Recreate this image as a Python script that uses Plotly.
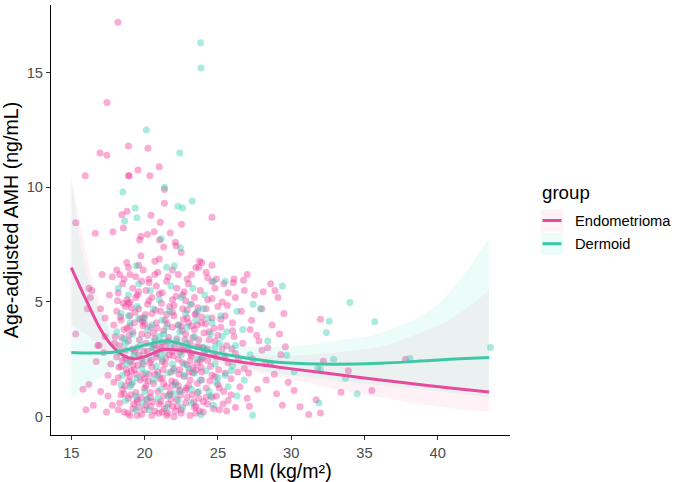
import plotly.graph_objects as go

# ---------------- data ----------------
endo_x = [18.18, 17.43, 18.9, 20.23, 16.96, 17.43, 21.0, 19.55, 15.95, 18.9, 18.95, 20.36, 21.35, 21.35, 18.45, 18.8, 20.44, 21.07, 24.6, 22.52, 15.3, 18.55, 16.64, 17.84, 20.66, 21.75, 19.75, 20.2, 19.66, 21.02, 22.1, 22.14, 21.3, 22.5, 19.75, 21.0, 20.7, 18.78, 23.75, 23.9, 23.7,
          28.6, 28.1, 26.05, 24.3, 24.6,
          15.3, 16.2, 16.3, 16.4, 16.1, 15.8, 16.0, 16.5, 16.2, 16.8, 16.9, 17.1, 17.0, 17.2, 17.0, 17.4, 17.5, 17.6, 17.8, 17.9, 17.3, 17.7, 17.5, 17.9, 17.8, 16.7, 17.3, 17.95,
          18.3, 18.6, 19.0, 19.4, 19.9, 20.3, 20.9, 21.6, 22.3, 22.9, 23.5, 24.2, 24.9, 25.4, 18.1, 19.6,
          18.2, 18.5, 18.8, 19.2, 19.5, 19.8, 20.1, 20.5, 20.8, 21.2, 21.5, 21.9, 22.2, 22.6, 23.0, 23.4, 23.8, 24.3, 24.8, 25.3, 25.7, 26.2, 26.8, 27.5, 28.9, 19.0, 20.3, 22.8,
          18.1, 18.4, 18.7, 19.0, 19.3, 19.6, 19.9, 20.2, 20.5, 20.8, 21.1, 21.4, 21.7, 22.0, 22.3, 22.6, 22.9, 23.2, 23.5, 23.9, 24.2, 24.6, 25.0, 25.5, 26.0, 26.6, 27.3, 28.0, 28.7, 29.5, 32.0, 18.9, 20.0, 21.9, 23.6,
          18.0, 18.3, 18.6, 18.9, 19.2, 19.5, 19.8, 20.1, 20.4, 20.7, 21.0, 21.3, 21.6, 21.9, 22.2, 22.5, 22.8, 23.1, 23.4, 23.7, 24.0, 24.4, 24.8, 25.2, 25.6, 26.1, 26.7, 27.2, 27.8, 28.4, 29.2, 19.0, 20.6, 23.3,
          18.1, 18.4, 18.7, 19.0, 19.3, 19.6, 19.9, 20.2, 20.5, 20.8, 21.1, 21.4, 21.7, 22.0, 22.3, 22.6, 22.9, 23.2, 23.5, 23.8, 24.1, 24.5, 24.9, 25.3, 25.7, 26.2, 26.8, 27.4, 28.0, 28.6, 29.3, 32.2, 33.9, 37.8, 18.5, 19.8, 21.2, 22.4, 23.6, 24.7,
          18.2, 18.5, 18.8, 19.1, 19.4, 19.7, 20.0, 20.3, 20.6, 20.9, 21.2, 21.5, 21.8, 22.1, 22.4, 22.7, 23.0, 23.3, 23.6, 23.9, 24.2, 24.6, 25.0, 25.4, 25.9, 26.5, 27.1, 27.7, 28.3, 29.0, 29.8, 30.2, 33.4, 35.5, 18.9, 20.4, 21.9, 23.1,
          18.3, 18.6, 18.9, 19.2, 19.5, 19.8, 20.1, 20.4, 20.7, 21.0, 21.3, 21.6, 21.9, 22.2, 22.5, 22.8, 23.1, 23.4, 23.7, 24.0, 24.3, 24.6, 25.1, 25.7, 26.2, 27.0, 29.4, 30.6, 31.2, 31.7, 32.0, 19.0, 20.0, 22.0, 23.5, 21.2, 19.6,
          18.15, 18.45, 18.75, 19.05, 19.35, 19.65, 19.95, 20.25, 20.55, 20.85, 21.15, 21.45, 21.75, 22.05, 22.35, 22.65, 22.95, 23.25, 23.55, 23.85, 24.15, 24.45, 24.75, 25.05, 25.35, 25.65, 25.95, 26.35, 26.75, 27.15, 27.65, 28.25, 28.85, 29.6, 19.1, 19.9, 20.9, 21.8, 22.9, 23.9, 24.9, 18.6, 18.2, 20.2, 21.4, 22.6, 23.0, 24.3, 25.5, 19.4, 20.7, 21.9, 23.2, 24.6, 18.9, 26.1, 27.0, 29.1,
          18.35, 18.65, 18.95, 19.25, 19.55, 19.85, 20.15, 20.45, 20.75, 21.05, 21.35, 21.65, 21.95, 22.25, 22.55, 22.85, 23.15, 23.45, 23.75, 24.05,
          18.25, 18.55, 18.85, 19.15, 19.45, 19.75, 20.05, 20.35, 20.65, 20.95, 21.25, 21.55, 21.85, 22.15, 22.45, 22.75, 23.05, 23.35, 23.65, 23.95,
          18.4, 18.8, 19.2, 19.6, 20.0, 20.4, 20.8, 21.2, 21.6, 22.0, 22.4, 22.8, 23.2, 23.6, 24.0, 24.4, 24.8, 25.2, 25.6, 26.0,
          18.7, 19.1, 19.5, 19.9, 20.3, 20.7, 21.1, 21.5, 21.9, 22.3, 22.7, 23.1, 23.5, 23.9, 24.3, 24.7, 25.1, 25.5, 25.9, 26.4,
          19.0, 19.3, 19.7, 20.1, 20.6, 21.0, 21.3, 21.7, 22.1, 22.5, 22.9, 23.3, 23.7, 24.2, 24.6, 25.0, 19.5, 20.5, 21.5, 22.5]
endo_y = [17.2, 13.7, 11.8, 11.7, 11.5, 11.4, 10.9, 10.75, 10.5, 10.5, 10.5, 10.5, 9.9, 9.3, 8.8, 8.96, 8.78, 8.48, 8.7, 8.39, 8.45, 8.23, 8.0, 8.06, 8.06, 8.01, 7.87, 7.94, 7.7, 7.7, 7.6, 7.45, 7.4, 7.16, 7.02, 6.87, 6.78, 6.72, 6.78, 6.72, 6.52,
          5.8, 5.45, 5.84, 6.07, 5.88,
          3.6, 5.6, 5.2, 5.5, 4.7, 1.2, 0.3, 0.5, 1.4, 3.1, 3.1, 6.2, 4.7, 2.8, 1.1, 0.2, 1.8, 5.3, 6.1, 4.0, 3.5, 2.3, 0.9, 1.5, 0.5, 2.4, 4.3, 3.2,
          6.2, 6.0, 6.2, 6.1, 6.4, 6.0, 6.3, 6.1, 6.2, 6.0, 6.5, 6.3, 6.0, 5.8, 6.4, 6.6,
          5.4, 5.8, 5.1, 5.6, 5.3, 5.9, 5.5, 5.2, 5.7, 5.4, 5.9, 5.1, 5.6, 5.3, 5.8, 5.2, 5.5, 5.1, 5.6, 5.0, 5.4, 5.2, 5.5, 5.3, 5.5, 5.0, 5.85, 5.05,
          4.6, 4.2, 4.8, 4.4, 4.1, 4.7, 4.3, 4.9, 4.5, 4.1, 4.6, 4.2, 4.8, 4.4, 4.0, 4.7, 4.3, 4.9, 4.5, 4.1, 4.7, 4.3, 4.8, 4.4, 4.1, 4.6, 4.2, 4.7, 4.0, 4.5, 4.25, 4.95, 4.05, 4.55, 4.0,
          3.5, 3.1, 3.8, 3.3, 3.7, 3.0, 3.6, 3.2, 3.9, 3.4, 3.05, 3.75, 3.3, 3.9, 3.4, 3.0, 3.6, 3.2, 3.8, 3.35, 3.0, 3.7, 3.3, 3.9, 3.1, 3.5, 3.2, 3.8, 3.3, 3.0, 3.6, 3.95, 3.0, 3.45,
          2.6, 2.2, 2.9, 2.4, 2.05, 2.7, 2.3, 2.85, 2.15, 2.6, 2.95, 2.3, 2.7, 2.1, 2.5, 2.9, 2.25, 2.65, 2.05, 2.45, 2.85, 2.2, 2.6, 2.95, 2.35, 2.75, 2.1, 2.5, 2.9, 2.3, 2.7, 2.42, 2.0, 2.5, 2.45, 2.55, 2.4, 2.8, 2.35, 2.7,
          1.7, 1.2, 1.9, 1.4, 1.05, 1.6, 1.25, 1.85, 1.45, 1.1, 1.7, 1.3, 1.95, 1.5, 1.15, 1.75, 1.35, 1.9, 1.05, 1.6, 1.25, 1.8, 1.4, 1.1, 1.65, 1.3, 1.9, 1.2, 1.6, 1.0, 1.5, 1.14, 1.06, 1.14, 1.55, 1.05, 1.35, 1.6,
          0.6, 0.2, 0.8, 0.35, 0.65, 0.1, 0.5, 0.85, 0.25, 0.55, 0.9, 0.15, 0.45, 0.75, 0.3, 0.6, 0.05, 0.4, 0.8, 0.2, 0.55, 0.85, 0.3, 0.7, 0.4, 0.8, 0.5, 0.43, 0.09, 0.74, 0.16, 0.05, 0.3, 0.0, 0.15, 0.2, 0.4,
          5.05, 3.45, 2.05, 0.95, 4.55, 3.35, 2.85, 1.55, 0.65, 3.85, 4.95, 2.55, 1.05, 3.05, 1.85, 4.25, 2.95, 0.95, 3.05, 2.15, 4.05, 1.55, 3.85, 2.05, 0.55, 4.85, 2.95, 1.95, 5.95, 0.45, 3.55, 2.35, 1.85, 3.05, 2.0, 1.85, 1.95, 0.75, 0.85, 1.95, 0.9, 1.0, 0.3, 3.55, 3.1, 2.35, 4.1, 2.45, 1.9, 5.2, 6.2, 6.4, 6.2, 6.6, 6.5, 6.0, 6.2, 5.2,
          4.35, 1.35, 3.55, 0.55, 2.25, 4.15, 0.75, 2.45, 4.65, 1.65, 0.35, 3.45, 2.65, 0.45, 3.75, 1.25, 2.75, 4.45, 0.25, 3.65,
          2.15, 4.95, 0.15, 2.95, 1.85, 0.85, 4.45, 2.35, 3.15, 0.15, 2.05, 4.05, 1.55, 5.25, 0.95, 3.35, 1.95, 0.65, 4.75, 2.55,
          0.95, 3.85, 2.25, 5.45, 1.65, 0.45, 2.75, 3.25, 0.55, 4.85, 2.05, 1.15, 3.95, 1.45, 0.65, 3.35, 1.75, 4.25, 0.25, 3.75,
          2.55, 4.75, 0.75, 3.95, 5.05, 1.85, 0.65, 4.45, 2.85, 1.35, 5.45, 2.45, 0.45, 4.35, 2.95, 0.35, 1.25, 2.65, 0.95, 2.55,
          1.75, 2.85, 4.25, 1.35, 3.65, 5.35, 1.45, 0.95, 0.25, 3.95, 4.65, 2.15, 3.05, 0.85, 5.15, 3.55, 0.05, 0.05, 0.05, 0.15]

derm_x = [23.82, 23.85, 20.12, 22.4, 21.36, 18.52, 23.25, 22.28, 22.6, 19.36, 18.64, 19.48, 21.14, 22.44, 19.43, 22.03, 21.5,
          29.4, 34.0, 32.6, 35.7, 32.4, 29.7, 32.9, 31.8, 32.0, 30.2, 33.7, 34.5, 31.9, 38.1, 43.6,
          25.5, 26.3, 27.4, 27.9, 28.4, 26.7, 27.2, 25.9, 27.37, 23.2,
          18.2, 18.9, 19.6, 20.4, 21.0, 21.8, 22.5, 23.3, 24.1, 24.7,
          18.4, 19.0, 19.5, 20.0, 20.6, 21.2, 21.7, 22.3, 22.8, 23.5, 24.0, 24.6, 25.2,
          18.1, 18.7, 19.2, 19.7, 20.2, 20.7, 21.3, 21.8, 22.4, 22.9, 23.4, 24.0, 24.5, 25.1, 25.6,
          18.3, 18.8, 19.3, 19.8, 20.3, 20.8, 21.4, 21.9, 22.5, 23.0, 23.6, 24.2, 24.8, 25.4, 26.0,
          18.5, 19.0, 19.5, 20.0, 20.6, 21.1, 21.6, 22.1, 22.7, 23.2, 23.8, 24.4, 25.0, 25.7,
          18.7, 19.4, 20.3, 20.9, 21.5, 22.3, 23.85, 24.7, 26.3, 19.9,
          18.6, 19.1, 19.6, 20.1, 20.5, 21.0, 21.5, 22.0, 22.4, 22.9, 23.4, 23.9, 24.3, 24.9, 25.3,
          18.9, 19.4, 19.9, 20.5, 21.0, 21.6, 22.2, 22.7, 23.1, 23.7, 24.2, 24.8, 25.5, 26.2, 26.8,
          19.2, 20.2, 21.2, 22.0, 23.0, 24.5, 18.4, 20.9, 22.6, 23.6]
derm_y = [16.3, 15.2, 12.5, 11.5, 10.0, 9.8, 9.4, 9.17, 9.1, 9.1, 8.53, 8.67, 7.76, 7.36, 6.58, 6.58, 6.52,
          5.7, 4.98, 4.16, 4.14, 3.67, 2.68, 2.5, 2.1, 2.07, 1.96, 1.67, 1.0, 0.6, 2.54, 3.01,
          5.9, 4.6, 4.9, 4.7, 3.3, 3.8, 2.7, 2.0, 0.06, 0.6,
          5.6, 5.3, 5.8, 5.5, 5.1, 5.7, 5.2, 5.6, 5.3, 5.9,
          4.5, 4.1, 4.8, 4.3, 4.7, 4.2, 4.6, 4.0, 4.5, 4.2, 4.7, 4.1, 4.4,
          3.7, 3.2, 3.6, 3.1, 3.8, 3.3, 3.6, 3.1, 3.7, 3.2, 3.5, 3.0, 3.6, 3.2, 3.7,
          2.8, 2.3, 2.7, 2.1, 2.6, 2.2, 2.8, 2.3, 2.7, 2.1, 2.5, 2.9, 2.3, 2.6, 2.2,
          1.8, 1.3, 1.7, 1.1, 1.6, 1.2, 1.9, 1.4, 1.8, 1.2, 1.6, 1.1, 1.7, 1.3,
          0.7, 0.3, 0.3, 0.8, 0.4, 0.7, 0.08, 0.5, 0.9, 0.6,
          3.4, 2.5, 4.3, 1.9, 3.0, 2.7, 3.9, 2.0, 1.1, 3.9, 1.9, 2.6, 4.3, 1.5, 3.5,
          4.4, 0.9, 2.4, 4.0, 3.5, 0.9, 3.3, 2.3, 4.9, 1.1, 2.0, 3.0, 1.8, 3.1, 1.6,
          1.5, 0.8, 2.5, 1.0, 2.9, 0.9, 1.4, 1.8, 0.4, 4.6]

# smooth fits with confidence bands
endo_fx = [15, 16, 17, 17.7, 18.6, 19.2, 20, 21.3, 22.5, 23.4, 25.6, 27.9, 30.6, 33, 36.1, 39, 41, 43.5]
endo_fit = [6.5, 5.1, 3.8, 3.15, 2.65, 2.52, 2.62, 2.93, 2.88, 2.8, 2.48, 2.26, 2.04, 1.85, 1.6, 1.38, 1.24, 1.08]
endo_lo = [4.0, 3.6, 3.05, 2.75, 2.4, 2.3, 2.42, 2.7, 2.64, 2.55, 2.2, 1.9, 1.55, 1.2, 0.85, 0.52, 0.36, 0.21]
endo_hi = [10.5, 7.2, 4.75, 3.6, 2.93, 2.76, 2.84, 3.18, 3.14, 3.07, 2.8, 2.68, 2.68, 2.8, 3.06, 3.7, 4.3, 5.5]

derm_fx = [15, 16, 17, 18, 19, 20, 21, 21.6, 22.5, 23.5, 25, 27, 29.3, 31, 33, 36.1, 39.5, 41.5, 43.5]
derm_fit = [2.8, 2.78, 2.78, 2.82, 2.95, 3.12, 3.27, 3.3, 3.17, 3.0, 2.78, 2.55, 2.36, 2.31, 2.29, 2.33, 2.45, 2.52, 2.58]
derm_lo = [0.78, 1.25, 1.7, 2.15, 2.5, 2.75, 2.9, 2.93, 2.8, 2.63, 2.4, 2.12, 1.86, 1.72, 1.57, 1.38, 1.15, 1.0, 0.85]
derm_hi = [10.3, 6.4, 4.6, 3.7, 3.48, 3.55, 3.7, 3.72, 3.6, 3.42, 3.22, 3.06, 3.06, 3.12, 3.3, 3.65, 4.65, 5.96, 7.8]

group_names = ["Endometrioma", "Dermoid"]
x_ticks = [15, 20, 25, 30, 35, 40]
y_ticks = [0, 5, 10, 15]

# ---------------- styles ----------------
PINK_LINE = "#E84A9E"
TEAL_LINE = "#3CC8A8"
PINK_PT = "rgba(240,50,150,0.40)"
TEAL_PT = "rgba(40,205,175,0.40)"
PINK_FILL = "rgba(240,100,150,0.085)"
TEAL_FILL = "rgba(40,225,185,0.085)"
FONT = "Liberation Sans, Arial, sans-serif"
TXT = 14.7
LTTL = 18.7
ATTL = 19.6

fig = go.Figure()

fig.add_trace(go.Scatter(x=endo_x, y=endo_y, mode="markers",
                         marker=dict(size=7, color=PINK_PT, line=dict(width=0)),
                         showlegend=False, hoverinfo="skip"))
fig.add_trace(go.Scatter(x=derm_x, y=derm_y, mode="markers",
                         marker=dict(size=7, color=TEAL_PT, line=dict(width=0)),
                         showlegend=False, hoverinfo="skip"))

for fx, lo, hi, fc in [(endo_fx, endo_lo, endo_hi, PINK_FILL), (derm_fx, derm_lo, derm_hi, TEAL_FILL)]:
    fig.add_trace(go.Scatter(x=fx, y=lo, mode="lines", line=dict(width=0, shape="spline"),
                             showlegend=False, hoverinfo="skip"))
    fig.add_trace(go.Scatter(x=fx, y=hi, mode="lines", line=dict(width=0, shape="spline"),
                             fill="tonexty", fillcolor=fc, showlegend=False, hoverinfo="skip"))
for fx, fit, lc in [(endo_fx, endo_fit, PINK_LINE), (derm_fx, derm_fit, TEAL_LINE)]:
    fig.add_trace(go.Scatter(x=fx, y=fit, mode="lines", line=dict(width=3, color=lc, shape="spline"),
                             showlegend=False, hoverinfo="skip"))

# ---------------- custom legend ----------------
W_L, W_R, M_T, M_B = 51, 164, 5, 47
PW, PH = 674 - W_L - W_R, 482 - M_T - M_B


def px_x(p):
    return (p - W_L) / PW


def px_y(p):
    return 1 - (p - M_T) / PH


shapes = []
annotations = [dict(x=px_x(539.5), y=px_y(192), xref="paper", yref="paper", text="group",
                    showarrow=False, xanchor="left", yanchor="middle",
                    font=dict(family=FONT, size=LTTL, color="black"))]
for i, (name, lc, fc) in enumerate(zip(group_names, [PINK_LINE, TEAL_LINE], [PINK_FILL, TEAL_FILL])):
    top = 209.5 + i * 23.2
    shapes.append(dict(type="rect", xref="paper", yref="paper", x0=px_x(541), x1=px_x(563),
                       y0=px_y(top), y1=px_y(top + 22), fillcolor=fc, line=dict(width=0)))
    shapes.append(dict(type="line", xref="paper", yref="paper", x0=px_x(542.5), x1=px_x(561.5),
                       y0=px_y(top + 11), y1=px_y(top + 11), line=dict(color=lc, width=3)))
    annotations.append(dict(x=px_x(573), y=px_y(top + 11), xref="paper", yref="paper", text=name,
                            showarrow=False, xanchor="left", yanchor="middle",
                            font=dict(family=FONT, size=TXT, color="black")))

fig.update_layout(
    width=674, height=482,
    margin=dict(l=W_L, r=W_R, t=M_T, b=M_B),
    paper_bgcolor="white", plot_bgcolor="white",
    font=dict(family=FONT),
    showlegend=False,
    shapes=shapes, annotations=annotations,
    xaxis=dict(range=[13.615, 44.93], tickvals=x_ticks, ticks="outside", ticklen=4,
               tickcolor="#333333", tickwidth=1, showline=True, linecolor="black", linewidth=1.1,
               showgrid=False, zeroline=False,
               tickfont=dict(family=FONT, size=TXT, color="#4D4D4D"),
               title=dict(text="BMI (kg/m²)", font=dict(family=FONT, size=ATTL, color="black"), standoff=3)),
    yaxis=dict(range=[-0.8, 17.95], tickvals=y_ticks, ticks="outside", ticklen=4,
               tickcolor="#333333", tickwidth=1, showline=True, linecolor="black", linewidth=1.1,
               showgrid=False, zeroline=False,
               tickfont=dict(family=FONT, size=TXT, color="#4D4D4D"),
               title=dict(text="Age-adjusted AMH (ng/mL)", font=dict(family=FONT, size=ATTL, color="black"), standoff=3)),
)

fig.write_html("out.html")
